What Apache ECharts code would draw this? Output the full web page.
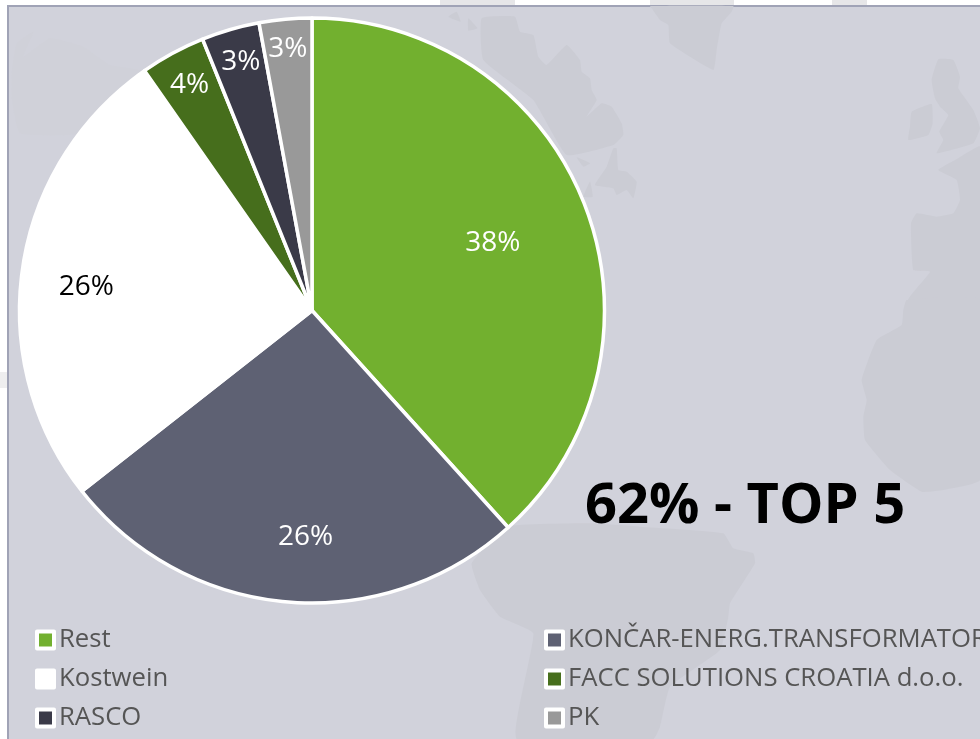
<!DOCTYPE html>
<html><head><meta charset="utf-8">
<style>html,body{margin:0;padding:0;background:#fff;overflow:hidden}#c{width:980px;height:739px}</style>
<script src="https://cdn.jsdelivr.net/npm/echarts@6/dist/echarts.min.js"></script>
</head><body><div id="c"></div>
<script>
const categories = ['Rest','KONČAR-ENERG.TRANSFORMATORI','Kostwein','FACC SOLUTIONS CROATIA d.o.o.','RASCO','PK'];
const values = [38.3,26.1,25.9,3.6,3.2,2.9];
const colors = ['#72b02f','#5e6173','#ffffff','#466e1c','#3a3a48','#999999'];
const labelColors = ['#fff','#fff','#000','#fff','#fff','#fff'];
const labelRadius = [0.656,0.77,0.77,0.875,0.885,0.9];
const labelNudgeX = [-1,13,0,1,2,0];
const labelNudgeY = [3,-1,10,2,3,4];
const legendLeft = ['Rest','Kostwein','RASCO'];
const legendRight = ['KONČAR-ENERG.TRANSFORMATORI','FACC SOLUTIONS CROATIA d.o.o.','PK'];
const headline = '62% - TOP 5';

const FONT = '"Open Sans", sans-serif', R = 292.5;
const LAND = '#cbccd4';
function shape(ox, oy, pts, fill) {
  return { type:'polygon', silent:true, z:1,
    shape:{ points: pts.map(p => [ox + p[0]/3, oy + p[1]/3]), smooth:0.12 },
    style:{ fill: fill || LAND } };
}
const mapShapes = [
  shape(400,0,[[245,55],[345,50],[360,95],[400,105],[415,170],[440,195],[500,135],[540,180],[545,215],[570,235],[575,270],[590,300],[560,350],[605,310],[635,320],[665,370],[670,405],[640,435],[500,465],[400,300],[250,180]]),
  shape(400,0,[[640,445],[650,445],[655,510],[680,515],[710,545],[700,595],[680,570],[650,585],[640,565],[585,555],[620,500]]),
  shape(400,0,[[145,50],[170,35],[182,65]]),
  shape(400,0,[[205,55],[232,85],[205,92]]),
  shape(400,0,[[530,472],[570,490],[550,500]]),
  shape(400,0,[[570,545],[578,590],[550,590]]),
  shape(600,0,[[150,18],[400,18],[395,35],[365,70],[350,150],[340,210],[210,130],[205,75],[180,60],[155,25]]),
  shape(600,0,[[935,335],[995,312],[998,370],[985,405],[925,420],[930,380]]),
  shape(600,0,[[1015,178],[1060,180],[1080,230],[1075,265],[1120,330],[1140,385],[1120,430],[1010,460],[1030,420],[1018,395],[1045,345],[1020,320],[1005,295],[995,240]]),
  shape(600,0,[[1015,510],[1075,475],[1140,440],[1140,900],[925,900],[990,815],[940,810],[933,670],[950,640],[1010,650],[1060,640],[1080,600],[1070,540]]),
  shape(600,300,[[920,0],[1140,0],[1140,540],[1030,570],[965,575],[870,510],[795,420],[790,350],[800,300],[785,240],[830,120],[905,75],[910,30]]),
  shape(440,520,[[95,130],[200,20],[450,10],[600,20],[850,40],[880,85],[940,100],[945,130],[870,250],[865,290],[840,390],[690,500],[660,620],[640,657],[230,657],[280,340],[180,290],[120,210]]),
  shape(0,0,[[36,210],[50,130],[100,95],[70,170],[150,115],[250,140],[330,195],[430,215],[240,400],[60,400],[36,300]], '#d0d1d9')
];
const total = values.reduce((a,b) => a+b, 0);
function midAngle(i){
  let s = 0; for (let k=0;k<i;k++) s += values[k];
  return (s + values[i]/2) / total * 2*Math.PI;
}
const chart = echarts.init(document.getElementById('c'), null, {renderer:'canvas'});
chart.setOption({
  animation:false,
  backgroundColor:'#ffffff',
  graphic:[
    { type:'rect', silent:true, z:0, shape:{x:8,y:6,width:972,height:733}, style:{fill:'#d1d2db'} },
    { type:'rect', silent:true, z:0, shape:{x:7,y:5,width:973,height:2}, style:{fill:'#a0a3b6'} },
    { type:'rect', silent:true, z:0, shape:{x:7,y:5,width:2,height:734}, style:{fill:'#a0a3b6'} },
    { type:'rect', silent:true, z:1, shape:{x:650,y:0,width:84,height:5}, style:{fill:'#e6e6e8'} },
    { type:'rect', silent:true, z:1, shape:{x:440,y:0,width:75,height:5}, style:{fill:'#e6e6e8'} },
    { type:'rect', silent:true, z:1, shape:{x:832,y:0,width:35,height:5}, style:{fill:'#e6e6e8'} },
    { type:'rect', silent:true, z:1, shape:{x:0,y:372,width:7,height:16}, style:{fill:'#eeeeef'} },
    ...mapShapes
  ],
  title:{ text:headline, left:585, top:479, padding:0,
    textStyle:{ fontFamily:FONT, fontSize:56, fontWeight:700, color:'#000' } },
  legend:[legendLeft, legendRight].map((data,i) => ({
    data, orient:'vertical', left:i ? 544 : 35, top:627, height:112, padding:0,
    itemWidth:17, itemHeight:17, itemGap:13, icon:'rect',
    itemStyle:{ borderColor:'#fff', borderWidth:4 },
    textStyle:{ fontFamily:FONT, fontSize:25.7, color:'#555555', padding:0 }
  })),
  series:[{
    type:'pie', center:[312,310.5], radius:[0,R], startAngle:90, clockwise:true,
    silent:true, z:5,
    itemStyle:{ borderColor:'#fff', borderWidth:3.5 },
    label:{ position:'inside', fontFamily:FONT, fontSize:28,
      formatter:p => Math.round(p.percent)+'%' },
    labelLine:{ show:false },
    labelLayout:p => {
      const i = p.dataIndex, a = midAngle(i), d = (labelRadius[i]-0.5)*R;
      return { dx: Math.sin(a)*d + labelNudgeX[i], dy: -Math.cos(a)*d + labelNudgeY[i] };
    },
    data:categories.map((name,i) => ({ name, value:values[i],
      itemStyle:{color:colors[i]}, label:{color:labelColors[i]} }))
  }]
});
</script></body></html>
